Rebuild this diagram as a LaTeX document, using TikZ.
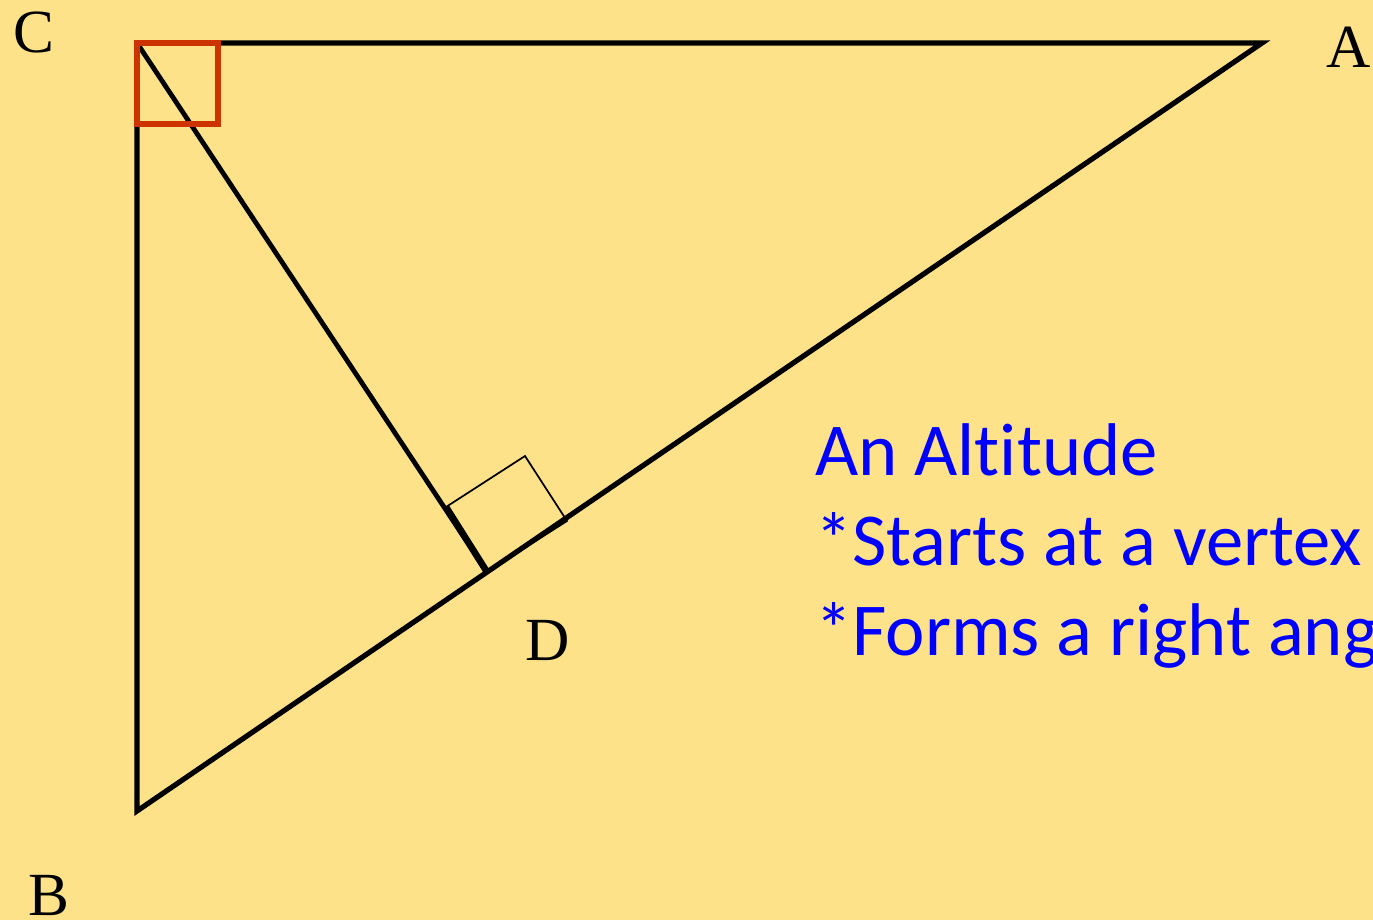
\documentclass[tikz,border=0pt]{standalone}
\usepackage{fontspec}
\setmainfont{Liberation Serif}
\newfontfamily\calib[Ligatures={NoCommon}]{Carlito}
\definecolor{bg}{RGB}{254,226,138}
\definecolor{redsq}{RGB}{204,51,0}
\definecolor{txtblue}{RGB}{0,0,255}
\begin{document}
\begin{tikzpicture}[x=0.75pt,y=-0.75pt,
  side/.style={line width=3.9pt,line join=miter},
  alt/.style={line width=3.6pt},
  altthick/.style={line width=5pt},
  marksq/.style={line width=1.3pt},
  vlabel/.style={font=\fontsize{46}{50}\selectfont,anchor=base,inner sep=0pt},
  note/.style={font=\calib\fontsize{56}{68}\selectfont,text=txtblue,anchor=base west,inner sep=0pt}]
\path[fill=bg] (0,0) rectangle (1373,920);
\clip (0,0) rectangle (1373,920);
\coordinate (C) at (137,43);
\coordinate (A) at (1262,43);
\coordinate (B) at (137,811);
\coordinate (D) at (487,572);
\coordinate (P) at (446,507);
\coordinate (Q) at (525,456);
\coordinate (R) at (567,521);
% triangle
\draw[side] (C) -- (A) -- (B) -- cycle;
% altitude
\draw[alt] (C) -- (D);
\draw[altthick] (P) -- (D);
% right angle mark at D
\draw[marksq] (P) -- (Q) -- (R) -- (D);
% right angle mark at C
\draw[redsq,line width=3.9pt] (C) rectangle (218,124);
% labels
\node[vlabel] (lC) at (34,53) {C};
\node[vlabel] (lA) at (1349,68) {A};
\node[vlabel] (lB) at (49,915) {B};
\node[vlabel] (lD) at (548,660) {D};
\node[note] (t1) at (815,475) {An Altitude};
\node[note] (t2) at (815,565) {*Starts at a vertex};
\node[note] (t3) at (815,655) {*Forms a right angle};
\end{tikzpicture}
\end{document}
